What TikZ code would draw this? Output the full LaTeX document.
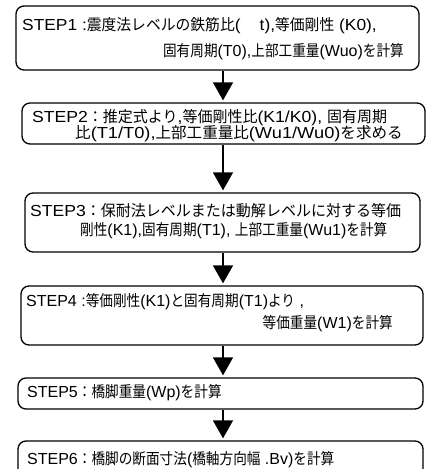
\documentclass[tikz,border=0pt]{standalone}
\usepackage{fontspec}
\usepackage{graphicx}
\setmainfont{Liberation Sans}
\newfontfamily\jpfam[FakeStretch=0.88]{Noto Sans CJK JP}
\newcommand{\J}[1]{{\jpfam\fontsize{15.5}{15.5}\selectfont #1}}
\usetikzlibrary{arrows.meta}
\tikzset{
  box/.style={draw=black, line width=1.3pt, rounded corners=8pt, rectangle, inner sep=0pt},
  txt/.style={inner sep=0pt, font=\fontsize{16}{16}\selectfont},
  arr/.style={line width=1.3pt, -{Triangle[width=20pt,length=18pt]}}
}
\newcommand{\boxat}[5]{\node[box, minimum width={#4-#2}, minimum height={#5-#3}] (#1) at ({(#2+#4)/2},{(#3+#5)/2}) {};}
\begin{document}
\begin{tikzpicture}[x=1pt,y=-1pt]
\useasboundingbox (0,0) rectangle (429,469);
\boxat{b1}{16}{6}{419}{70}
\boxat{b2}{22}{103}{425}{144}
\boxat{b3}{25}{193}{420}{252}
\boxat{b4}{21}{286}{423}{345}
\boxat{b5}{18}{378}{423}{409}
\boxat{b6}{18}{441}{423}{482}
\coordinate (ax) at (223,0);
% texts
\node[txt, anchor=west] (t1a) at (22,26) {\scalebox{1.085}[1]{STEP1 :\J{震度法レベルの鉄筋比}(\hspace{1.1em}t),\J{等価剛性} (K0),}};
\node[txt, anchor=east] (t1b) at (404,52) {\J{固有周期}(T0),\J{上部工重量}(Wuo)\J{を計算}};
\node[txt, anchor=west] (t2a) at (32,118) {\scalebox{1.1}[1]{STEP2\J{：推定式より},\J{等価剛性比}(K1/K0), \J{固有周期}}};
\node[txt, anchor=west] (t2b) at (75,134) {\scalebox{1.14}[1]{\J{比}(T1/T0),\J{上部工重量比}(Wu1/Wu0)\J{を求める}}};
\node[txt, anchor=west] (t3a) at (30,211) {\scalebox{1.1}[1]{STEP3\J{：保耐法レベルまたは動解レベルに対する等価}}};
\node[txt, anchor=west] (t3b) at (80,231) {\J{剛性}(K1),\J{固有周期}(T1), \J{上部工重量}(Wu1)\J{を計算}};
\node[txt, anchor=west] (t4a) at (26,302) {STEP4 :\J{等価剛性}(K1)\J{と固有周期}(T1)\J{より} ,};
\node[txt, anchor=east] (t4b) at (393,324) {\J{等価重量}(W1)\J{を計算}};
\node[txt, anchor=west] (t5) at (27,393) {STEP5\J{：橋脚重量}(Wp)\J{を計算}};
\node[txt, anchor=west] (t6) at (27,460) {STEP6\J{：橋脚の断面寸法}(\J{橋軸方向幅} .Bv)\J{を計算}};
% arrows
\draw[arr] (b1.south -| ax) -- ([yshift=2pt]b2.north -| ax);
\draw[arr] (b2.south -| ax) -- ([yshift=2pt]b3.north -| ax);
\draw[arr] (b3.south -| ax) -- ([yshift=2pt]b4.north -| ax);
\draw[arr] (b4.south -| ax) -- ([yshift=2pt]b5.north -| ax);
\draw[arr] (b5.south -| ax) -- ([yshift=2pt]b6.north -| ax);
\end{tikzpicture}
\end{document}
